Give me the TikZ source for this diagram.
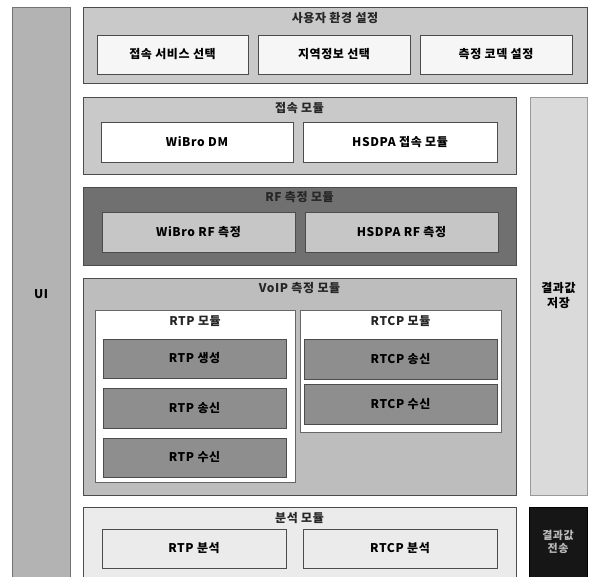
\documentclass[tikz,border=0pt]{standalone}
\usepackage{fontspec}
\setmainfont{Noto Sans CJK KR}[LetterSpace=5]
\begin{document}
\begin{tikzpicture}[x=1pt,y=-1pt,
  every node/.style={font=\bfseries\fontsize{12}{14}\selectfont, inner sep=0pt, outer sep=0pt},
  blk/.style={draw=black!70, line width=0.9pt, minimum width=#1, anchor=center},
  ttl/.style={font=\bfseries\fontsize{12}{14}\selectfont, text=black!85}
]
\definecolor{uicol}{HTML}{B3B3B3}
\definecolor{setbg}{HTML}{C9C9C9}
\definecolor{inwhite}{HTML}{F6F6F6}
\definecolor{storebg}{HTML}{DADADA}
\definecolor{rfbg}{HTML}{707070}
\definecolor{rfin}{HTML}{C6C6C6}
\definecolor{voipbg}{HTML}{BDBDBD}
\definecolor{rtpbox}{HTML}{8E8E8E}
\definecolor{anabg}{HTML}{EBEBEB}
\definecolor{sendbg}{HTML}{161616}
\definecolor{sendtx}{HTML}{BBBBBB}
\useasboundingbox (0,0) rectangle (589,577);
\fill[white] (0,0) rectangle (589,577);
\begin{scope}
\clip (0,0) rectangle (589,577);
% UI column
\node[blk=58pt, minimum height=575pt, fill=uicol, draw=black!55] (ui) at (41,294.5) {UI};
% user environment setup
\node[blk=504pt, minimum height=76pt, fill=setbg] (setup) at (335,45) {};
\node[ttl] (setupt) at (335,18) {사용자 환경 설정};
\node[blk=151pt, minimum height=39pt, fill=inwhite] (svc) at (172.5,54.5) {접속 서비스 선택};
\node[blk=152pt, minimum height=39pt, fill=inwhite] (region) at (334,54.5) {지역정보 선택};
\node[blk=152pt, minimum height=39pt, fill=inwhite] (codec) at (496,54.5) {측정 코덱 설정};
% connection module
\node[blk=433pt, minimum height=77pt, fill=setbg] (conn) at (299.5,135.5) {};
\node[ttl] (connt) at (299.5,108) {접속 모듈};
\node[blk=192pt, minimum height=40pt, fill=white] (wdm) at (197,142) {WiBro DM};
\node[blk=194pt, minimum height=40pt, fill=white] (hdm) at (400,142) {HSDPA 접속 모듈};
% result store
\node[blk=57pt, minimum height=398pt, fill=storebg, draw=black!40, align=center] (store) at (558.5,296) {결과값\\[1pt]저장};
% RF module
\node[blk=433pt, minimum height=78pt, fill=rfbg] (rf) at (299.5,226) {};
\node[ttl] (rft) at (299.5,197) {RF 측정 모듈};
\node[blk=193pt, minimum height=40pt, fill=rfin] (wrf) at (198.5,232) {WiBro RF 측정};
\node[blk=193pt, minimum height=40pt, fill=rfin] (hrf) at (401.5,232) {HSDPA RF 측정};
% VoIP module
\node[blk=433pt, minimum height=217pt, fill=voipbg] (voip) at (299.5,386.5) {};
\node[ttl] (voipt) at (299.5,288) {VoIP 측정 모듈};
\node[blk=200pt, minimum height=172pt, fill=white, draw=black!60] (rtpm) at (195,396) {};
\node[ttl] (rtpmt) at (195,321) {RTP 모듈};
\node[blk=201pt, minimum height=122pt, fill=white, draw=black!60] (rtcpm) at (400.5,371) {};
\node[ttl] (rtcpmt) at (400.5,321) {RTCP 모듈};
\node[blk=183pt, minimum height=39pt, fill=rtpbox] (rtpgen) at (194.5,358.5) {RTP 생성};
\node[blk=183pt, minimum height=40pt, fill=rtpbox] (rtpsend) at (194.5,408) {RTP 송신};
\node[blk=183pt, minimum height=39pt, fill=rtpbox] (rtprecv) at (194.5,457.5) {RTP 수신};
\node[blk=193pt, minimum height=40pt, fill=rtpbox] (rtcpsend) at (400.5,359) {RTCP 송신};
\node[blk=193pt, minimum height=40pt, fill=rtpbox] (rtcprecv) at (400.5,404) {RTCP 수신};
% analysis module
\node[blk=433pt, minimum height=76pt, fill=anabg] (ana) at (299.5,545) {};
\node[ttl] (anat) at (299.5,518) {분석 모듈};
\node[blk=184pt, minimum height=39pt, fill=anabg] (rtpana) at (194,548.5) {RTP 분석};
\node[blk=194pt, minimum height=39pt, fill=anabg] (rtcpana) at (400,548.5) {RTCP 분석};
% result send
\node[blk=58pt, minimum height=76pt, fill=sendbg, draw=black] (send) at (558,545) {};
\node[text=sendtx, align=center, font=\bfseries\fontsize{11}{13}\selectfont] (sendt) at (558,541.5) {결과값\\전송};
\end{scope}
\end{tikzpicture}
\end{document}
